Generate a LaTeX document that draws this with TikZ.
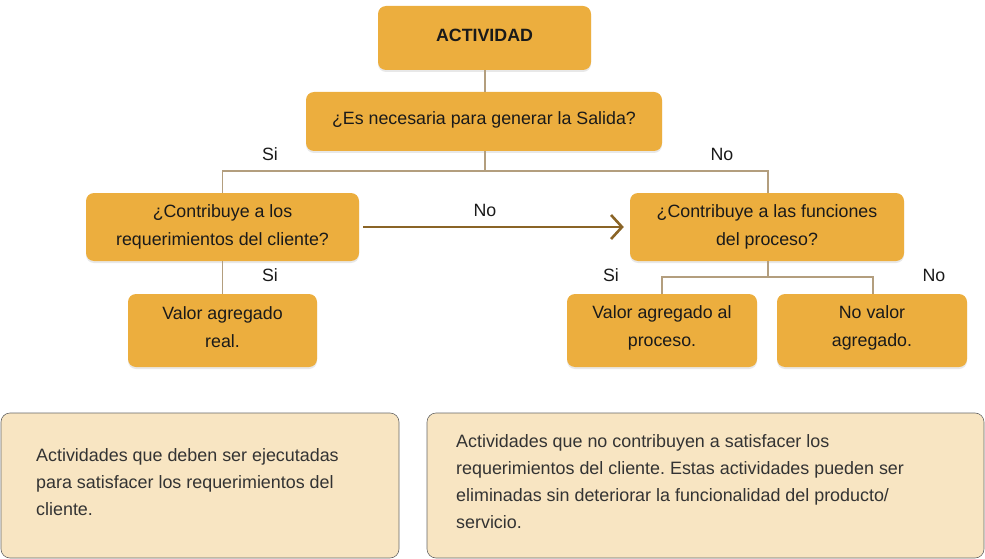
\documentclass[tikz,border=0pt]{standalone}
\usepackage{fontspec}
\setmainfont{Liberation Sans}
\frenchspacing
\usetikzlibrary{arrows.meta,shadows}
\definecolor{orangebox}{HTML}{ECAE3E}
\definecolor{tanbox}{HTML}{F8E5C2}
\definecolor{tanline}{HTML}{B39E7E}
\definecolor{arrowbrown}{HTML}{8A6426}
\definecolor{txt}{HTML}{1A1A1A}
\definecolor{txtb}{HTML}{333333}
\begin{document}
\begin{tikzpicture}[x=1pt,y=-1pt,
  font=\fontsize{17.8}{28}\selectfont,
  obox/.style={fill=orangebox, draw=none, rounded corners=8pt,
    inner sep=0pt, drop shadow={opacity=0.18, shadow xshift=0pt, shadow yshift=-2pt}},
  otext/.style={align=center, text=txt, inner sep=0pt},
  nbox/.style={fill=tanbox, draw=gray!80!black, line width=0.6pt, rounded corners=9pt, inner sep=0pt},
  ntext/.style={align=left, text=txtb, inner sep=0pt, font=\fontsize{17.9}{27}\selectfont},
  conn/.style={draw=tanline, line width=1.1pt},
  lbl/.style={text=txt, inner sep=0pt}
]
\useasboundingbox (0,0) rectangle (985,559);

\node[obox, minimum width=213pt, minimum height=64pt] (act) at (484.5,38) {};
\node[obox, minimum width=356pt, minimum height=59pt] (q1) at (484,121.5) {};
\node[obox, minimum width=273pt, minimum height=68pt] (q2) at (222.5,227) {};
\node[obox, minimum width=274pt, minimum height=68pt] (q3) at (767,227) {};
\node[obox, minimum width=189pt, minimum height=73pt] (var) at (222.5,330.5) {};
\node[obox, minimum width=190pt, minimum height=73pt] (vap) at (662,330.5) {};
\node[obox, minimum width=190pt, minimum height=73pt] (nva) at (872,330.5) {};

\node[otext] (actt) at ([yshift=3pt]act.center) {\textbf{ACTIVIDAD}};
\node[otext] (q1t) at ([yshift=2pt]q1.center) {¿Es necesaria para generar la Salida?};
\node[otext] (q2t) at (q2.center) {¿Contribuye a los\\requerimientos del cliente?};
\node[otext] (q3t) at ([yshift=0.5pt]q3.center) {¿Contribuye a las funciones\\del proceso?};
\node[otext] (vart) at ([yshift=3pt]var.center) {Valor agregado\\real.};
\node[otext] (vapt) at ([yshift=3pt]vap.center) {Valor agregado al\\proceso.};
\node[otext] (nvat) at ([yshift=3pt]nva.center) {No valor\\agregado.};

\node[nbox, minimum width=398pt, minimum height=145pt] (b1) at (200,485.5) {};
\node[nbox, minimum width=557pt, minimum height=145pt] (b2) at (705.5,485.5) {};
\node[ntext, anchor=west] (b1t) at (36,482) 
  {Actividades que deben ser ejecutadas\\para satisfacer los requerimientos del\\cliente.};
\node[ntext, anchor=west] (b2t) at (456,482)
  {Actividades que no contribuyen a satisfacer los\\requerimientos del cliente. Estas actividades pueden ser\\eliminadas sin deteriorar la funcionalidad del producto/\\servicio.};

\coordinate (j1) at (485,171);
\coordinate (j3) at (768,277);
\coordinate (nvatop) at (873,294);

\draw[conn] (act.south -| j1) -- (q1.north -| j1);
\draw[conn] (q1.south -| j1) -- (j1);
\draw[conn] (j1) -| (q2.north);
\draw[conn] (j1) -| (q3.north -| j3);
\draw[conn] (q2.south) -- (var.north);
\draw[conn] (q3.south -| j3) -- (j3);
\draw[conn] (j3) -| (vap.north);
\draw[conn] (j3) -| (nvatop);

\draw[draw=arrowbrown, line width=2.6pt, -{Straight Barb[length=11pt,width=24pt,line width=2.6pt]}]
  ([xshift=4pt]q2.east) -- ([xshift=-6pt]q3.west);

\node[lbl] (l1) at (270,154) {Si};
\node[lbl] (l2) at (722,154.5) {No};
\node[lbl] (l3) at (485,210) {No};
\node[lbl] (l4) at (270,275.5) {Si};
\node[lbl] (l5) at (611,275.5) {Si};
\node[lbl] (l6) at (934,275.5) {No};
\end{tikzpicture}
\end{document}
